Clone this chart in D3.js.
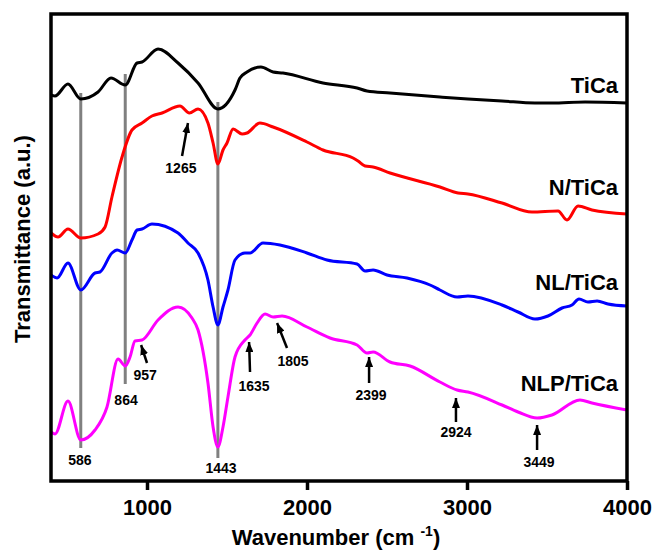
<!DOCTYPE html>
<html>
<head>
<meta charset="utf-8">
<script src="https://cdn.jsdelivr.net/npm/d3@7"></script>
<style>
  html, body { margin: 0; padding: 0; background: #fff; }
  svg { display: block; }
  text { font-family: Arial, "Liberation Sans", sans-serif; font-weight: bold; fill: #000; }
</style>
</head>
<body>
<script>
// ---- Data (wavenumber cm^-1, transmittance a.u. with vertical offsets) ----
const seriesNames = ["TiCa", "N/TiCa", "NL/TiCa", "NLP/TiCa"];
const seriesColors = ["#000000", "#ff0000", "#0000ff", "#ff00ff"];

const tica = [[400,3.86],[425,3.85],[506,3.97],[586,3.82],[694,3.89],[775,4.03],[864,3.96],[938,4.18],[969,4.19],[1069,4.32],[1194,4.18],[1319,3.98],[1443,3.72],[1550,3.91],[1581,4.03],[1625,4.09],[1712,4.14],[1788,4.09],[1850,4.08],[2100,3.98],[2313,3.93],[2375,3.90],[2519,3.88],[2831,3.84],[3006,3.82],[3219,3.80],[3425,3.78],[3531,3.78],[3738,3.79],[4000,3.78]];

const nTica = [[400,2.48],[444,2.44],[506,2.52],[586,2.43],[694,2.47],[738,2.54],[781,2.84],[844,3.24],[906,3.51],[969,3.58],[1031,3.65],[1094,3.68],[1206,3.75],[1265,3.68],[1319,3.72],[1381,3.58],[1413,3.38],[1443,3.17],[1475,3.31],[1500,3.38],[1538,3.52],[1594,3.47],[1625,3.48],[1706,3.58],[1788,3.54],[2000,3.39],[2100,3.31],[2288,3.23],[2319,3.20],[2363,3.15],[2413,3.14],[2519,3.08],[2831,2.94],[2944,2.88],[3006,2.87],[3219,2.78],[3406,2.69],[3569,2.70],[3625,2.61],[3694,2.75],[3781,2.71],[4000,2.67]];

const nlTica = [[400,2.06],[438,2.03],[506,2.18],[586,1.91],[675,2.08],[706,2.09],[781,2.28],[813,2.31],[864,2.28],[906,2.41],[938,2.51],[969,2.52],[1031,2.57],[1194,2.48],[1256,2.38],[1319,2.28],[1381,2.01],[1413,1.74],[1443,1.56],[1475,1.74],[1506,1.91],[1550,2.21],[1612,2.28],[1644,2.28],[1725,2.38],[1831,2.36],[2000,2.28],[2125,2.21],[2313,2.17],[2363,2.10],[2413,2.11],[2500,2.06],[2625,2.03],[2769,1.96],[2831,1.91],[2938,1.84],[3006,1.85],[3219,1.76],[3319,1.69],[3425,1.62],[3506,1.65],[3594,1.73],[3656,1.76],[3700,1.82],[3756,1.79],[3813,1.80],[3881,1.77],[4000,1.75]];

const nlpTica = [[400,0.49],[425,0.47],[506,0.80],[586,0.41],[675,0.51],[750,0.74],[819,1.22],[864,1.15],[894,1.24],[925,1.40],[969,1.41],[1069,1.61],[1194,1.74],[1281,1.63],[1319,1.51],[1381,0.98],[1413,0.54],[1443,0.34],[1475,0.54],[1506,0.84],[1550,1.24],[1612,1.41],[1644,1.46],[1688,1.58],[1738,1.67],[1788,1.64],[1844,1.65],[2000,1.54],[2144,1.43],[2313,1.36],[2375,1.28],[2413,1.29],[2519,1.19],[2644,1.15],[2831,0.99],[2938,0.91],[3006,0.89],[3219,0.76],[3319,0.69],[3438,0.63],[3531,0.66],[3706,0.81],[3781,0.78],[4000,0.71]];

const seriesData = [tica, nTica, nlTica, nlpTica];
// series label positions [wavenumber, a.u.] (right-aligned)
const seriesLabelPos = [[3944,3.88],[3944,2.86],[3944,1.91],[3944,0.90]];

const xTicks = [1000, 2000, 3000, 4000];

// Gray marker lines: [wavenumber, top a.u., bottom a.u.]
const guideLines = [[586,3.88,0.33],[864,4.07,0.97],[1443,3.79,0.23]];

// Peak labels: [text, wavenumber, a.u.]
const peakLabels = [["1265",1212,3.08],["957",988,1.01],["864",869,0.76],["586",581,0.16],["1443",1463,0.08],["1635",1669,0.90],["1805",1913,1.15],["2399",2400,0.81],["2924",2931,0.44],["3449",3450,0.14]];

// Arrows: [tail wn, tail a.u., head wn, head a.u.]
const arrows = [[1219,3.25,1256,3.58],[1000,1.18,963,1.36],[1644,1.09,1638,1.39],[1875,1.33,1813,1.58],[2388,0.98,2388,1.24],[2931,0.59,2931,0.83],[3438,0.31,3438,0.56]];

// ---- Layout ----
const W = 654, H = 551;
const plot = {left: 51, right: 627, top: 14, bottom: 481};

const svg = d3.select("body").append("svg").attr("width", W).attr("height", H);

const x = d3.scaleLinear().domain([400, 4000]).range([plot.left, plot.right]);
const y = d3.scaleLinear().domain([0, 4.67]).range([plot.bottom, plot.top]);

const defs = svg.append("defs");
defs.append("clipPath").attr("id", "clip").append("rect")
  .attr("x", plot.left).attr("y", plot.top)
  .attr("width", plot.right - plot.left).attr("height", plot.bottom - plot.top);
defs.append("marker").attr("id", "ah")
  .attr("markerUnits", "userSpaceOnUse")
  .attr("viewBox", "0 0 10 8").attr("refX", 10).attr("refY", 4)
  .attr("markerWidth", 10).attr("markerHeight", 8).attr("orient", "auto")
  .append("path").attr("d", "M0,0 L10,4 L0,8 Z").attr("fill", "#000");

// guide lines
svg.append("g").selectAll("line").data(guideLines).join("line")
  .attr("x1", d => x(d[0])).attr("x2", d => x(d[0]))
  .attr("y1", d => y(d[1])).attr("y2", d => y(d[2]))
  .attr("stroke", "#808080").attr("stroke-width", 3);

// curves
const line = d3.line().x(d => x(d[0])).y(d => y(d[1])).curve(d3.curveMonotoneX);
svg.append("g").attr("clip-path", "url(#clip)")
  .selectAll("path").data(seriesData).join("path")
  .attr("d", line).attr("fill", "none")
  .attr("stroke", (d, i) => seriesColors[i]).attr("stroke-width", 3)
  .attr("stroke-linejoin", "round");

// series labels
svg.append("g").selectAll("text").data(seriesNames).join("text")
  .attr("x", (d, i) => x(seriesLabelPos[i][0]))
  .attr("y", (d, i) => y(seriesLabelPos[i][1]))
  .attr("text-anchor", "end").attr("font-size", 22).text(d => d);

// arrows
svg.append("g").selectAll("line").data(arrows).join("line")
  .attr("x1", d => x(d[0])).attr("y1", d => y(d[1]))
  .attr("x2", d => x(d[2])).attr("y2", d => y(d[3]))
  .attr("stroke", "#000").attr("stroke-width", 2.5)
  .attr("marker-end", "url(#ah)");

// peak labels
svg.append("g").selectAll("text").data(peakLabels).join("text")
  .attr("x", d => x(d[1])).attr("y", d => y(d[2]))
  .attr("text-anchor", "middle").attr("font-size", 14).text(d => d[0]);

// frame
svg.append("rect")
  .attr("x", plot.left).attr("y", plot.top)
  .attr("width", plot.right - plot.left).attr("height", plot.bottom - plot.top)
  .attr("fill", "none").attr("stroke", "#000").attr("stroke-width", 3.5);

// x axis
const xAxis = svg.append("g").attr("transform", `translate(0,${plot.bottom})`)
  .call(d3.axisBottom(x).tickValues(xTicks).tickSize(9).tickPadding(9).tickFormat(d3.format("d")));
xAxis.select(".domain").remove();
xAxis.selectAll(".tick line").attr("stroke", "#000").attr("stroke-width", 3.5);
xAxis.selectAll(".tick text")
  .attr("font-size", 22).attr("font-weight", "bold")
  .attr("font-family", "Arial, 'Liberation Sans', sans-serif").attr("fill", "#000");

// axis titles
const xt = svg.append("text").attr("x", 336).attr("y", 545)
  .attr("text-anchor", "middle").attr("font-size", 22);
xt.append("tspan").text("Wavenumber (cm ");
xt.append("tspan").attr("font-size", 14).attr("dy", -9).text("-1");
xt.append("tspan").attr("dy", 9).text(")");

svg.append("text")
  .attr("transform", "translate(30,239) rotate(-90)")
  .attr("text-anchor", "middle").attr("font-size", 22)
  .text("Transmittance (a.u.)");
</script>
</body>
</html>
